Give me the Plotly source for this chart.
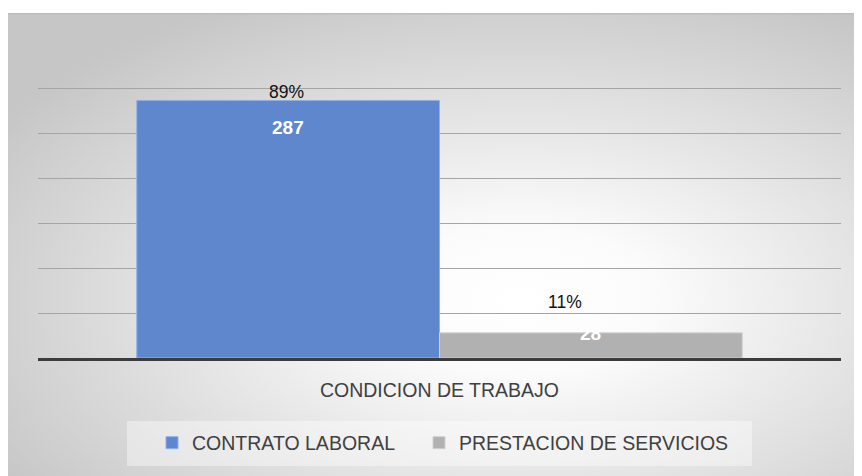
import base64
import plotly.graph_objects as go

categories = ["CONDICION DE TRABAJO"]
series_names = ["CONTRATO LABORAL", "PRESTACION DE SERVICIOS"]
series_values = [287, 28]
percent_labels = ["89%", "11%"]
series_colors = ["#5f87cd", "#b1b1b1"]
series_edges = ["#8fb0e8", "#d0d0d0"]

# page body has an 8px margin, so the figure is 8px smaller and offset
OFF = 8
W, H = 862 - OFF, 476 - OFF

def R(p):
    return p - OFF

ML, MR, MT, MB = R(38), W - R(841), R(43), H - R(358)
PW, PH = W - ML - MR, H - MT - MB

def px_x(px):
    return (R(px) - ML) / PW

def px_y(py):
    return (H - MB - R(py)) / PH

FONT = "Liberation Sans"
BARGAP = 0.246
legend_ids = ["legend", "legend2"]
legend_left_px = [152, 419]

fig = go.Figure()
for name, val, col, edge, lg in zip(series_names, series_values, series_colors, series_edges, legend_ids):
    fig.add_trace(go.Bar(
        x=categories, y=[val], name=name, legend=lg,
        marker=dict(color=col, line=dict(color=edge, width=1)),
        hoverinfo="skip",
    ))

# data labels (bar centres within the single category group)
n = len(series_values)
bar_w = (1 - BARGAP) / n
offsets = [-(1 - BARGAP) / 2 + bar_w * (i + 0.5) for i in range(n)]
value_shift = {0: -27, 1: -1}
pct_shift = {0: 8, 1: 31}
pct_xshift = {0: -2, 1: -26}
for i, (val, pct) in enumerate(zip(series_values, percent_labels)):
    fig.add_annotation(x=offsets[i], y=val, xref="x", yref="y", text=f"<b>{val}</b>",
                       showarrow=False, yshift=value_shift[i], yanchor="middle",
                       font=dict(family=FONT, size=19, color="white"))
    fig.add_annotation(x=offsets[i], y=val, xref="x", yref="y", text=pct,
                       showarrow=False, yshift=pct_shift[i], xshift=pct_xshift[i],
                       yanchor="middle",
                       font=dict(family=FONT, size=17.5, color="#111111"))

svg = (
    '<svg xmlns="http://www.w3.org/2000/svg" width="855" height="463" viewBox="0 0 855 463" preserveAspectRatio="none">'
    '<defs><radialGradient id="g" cx="0.6" cy="0.62" r="0.72" fx="0.6" fy="0.62">'
    '<stop offset="0" stop-color="#ffffff"/><stop offset="0.22" stop-color="#fbfbfb"/>'
    '<stop offset="1" stop-color="#c6c6c6"/></radialGradient></defs>'
    '<rect x="0" y="0" width="855" height="463" fill="url(#g)"/>'
    '<line x1="0" y1="0.75" x2="855" y2="0.75" stroke="#bdbdbd" stroke-width="1.5"/>'
    '<line x1="0.5" y1="0" x2="0.5" y2="463" stroke="#c4c4c4" stroke-width="1"/>'
    '</svg>'
)
src = "data:image/svg+xml;base64," + base64.b64encode(svg.encode()).decode()
fig.add_layout_image(
    source=src, xref="paper", yref="paper",
    x=px_x(7), y=px_y(13), sizex=px_x(862) - px_x(7), sizey=px_y(13) - px_y(476),
    xanchor="left", yanchor="top", sizing="stretch", layer="below",
)

# legend box
fig.add_shape(type="rect", xref="paper", yref="paper",
              x0=px_x(127), x1=px_x(752), y0=px_y(466), y1=px_y(421),
              fillcolor="rgba(255,255,255,0.4)", line=dict(width=0), layer="below")

legend_style = dict(orientation="h", xanchor="left", y=px_y(443), yanchor="middle",
                    bgcolor="rgba(0,0,0,0)", font=dict(family=FONT, size=19.5, color="#404040"))

fig.update_layout(
    width=W, height=H,
    margin=dict(l=ML, r=MR, t=MT, b=MB),
    paper_bgcolor="white", plot_bgcolor="rgba(0,0,0,0)",
    barmode="group", bargap=BARGAP, bargroupgap=0,
    showlegend=True,
    legend=dict(x=px_x(legend_left_px[0]), **legend_style),
    legend2=dict(x=px_x(legend_left_px[1]), **legend_style),
    font=dict(family=FONT),
)
fig.update_xaxes(showline=True, linecolor="#3c3c3c", linewidth=3, showgrid=False,
                 ticks="", ticklabelstandoff=13,
                 tickfont=dict(family=FONT, size=19.5, color="#404040"))
fig.update_yaxes(range=[0, 351], dtick=50, showticklabels=False, gridcolor="#a5a5a5",
                 gridwidth=1, zeroline=False, showline=False)

fig.write_html("out.html")
